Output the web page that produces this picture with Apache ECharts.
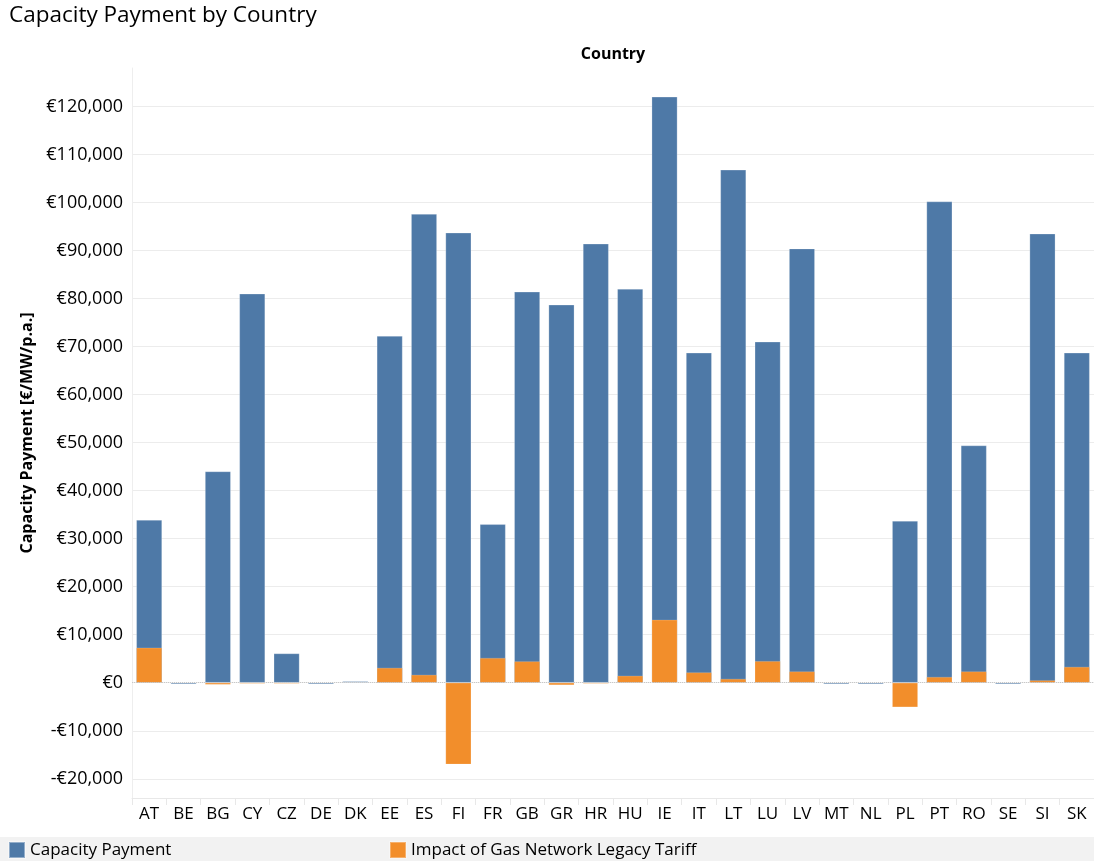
<!DOCTYPE html>
<html><head><meta charset="utf-8">
<script src="https://cdn.jsdelivr.net/npm/echarts@6/dist/echarts.min.js"></script>
<style>html,body{margin:0;padding:0;background:#fff}#c{width:1094px;height:861px}</style>
</head><body><div id="c"></div>
<script>
const countries = ['AT','BE','BG','CY','CZ','DE','DK','EE','ES','FI','FR','GB','GR','HR','HU','IE','IT','LT','LU','LV','MT','NL','PL','PT','RO','SE','SI','SK'];
const capacityPayment = [33900,-300,44000,81000,6100,-300,300,72200,97600,93700,33000,81400,78700,91400,82000,122000,68700,106800,71000,90400,-300,-300,33700,100200,49400,-300,93500,68700];
const gasLegacyImpact = [7300,0,-400,-200,-200,0,0,3100,1650,-17000,5150,4450,-500,-200,1450,13100,2150,800,4500,2350,0,0,-5100,1200,2350,0,500,3300];
const seriesNames = ['Capacity Payment','Impact of Gas Network Legacy Tariff'];
const yMin = -24000, yMax = 128000, yMajor = 10000, yMinor = 2000;

const FONT = '"Open Sans", "Noto Sans", sans-serif';
const gridColors = [];
for (let v = yMin; v <= yMax; v += yMinor) gridColors.push(v % yMajor === 0 ? '#ececec' : 'rgba(0,0,0,0)');
const fmt = v => (v % yMajor !== 0) ? '' : (v < 0 ? '-' : '') + '\u20ac' + Math.abs(v).toLocaleString('en-US');

const chart = echarts.init(document.getElementById('c'), null, {renderer: 'canvas'});
chart.setOption({
  animation: false,
  backgroundColor: '#fff',
  textStyle: {fontFamily: FONT},
  title: {text: 'Capacity Payment by Country', left: 9, top: 4, padding: 0,
    textStyle: {fontFamily: FONT, fontSize: 22.5, fontWeight: 'normal', color: '#000'}},
  graphic: [{type: 'rect', z: 0, shape: {x: 0, y: 837, width: 1094, height: 24}, style: {fill: '#f2f2f2'}, silent: true}],
  legend: [
    {data: [seriesNames[0]], left: 8, top: 841, padding: 0, icon: 'rect', itemWidth: 16, itemHeight: 16, z: 5,
      textStyle: {fontFamily: FONT, fontSize: 17, color: '#000'}},
    {data: [seriesNames[1]], left: 389, top: 841, padding: 0, icon: 'rect', itemWidth: 16, itemHeight: 16, z: 5,
      textStyle: {fontFamily: FONT, fontSize: 17, color: '#000'}}
  ],
  grid: {left: 132, right: 0, top: 68, bottom: 63, containLabel: false},
  xAxis: [
    {type: 'category', data: countries, position: 'bottom',
      axisLine: {onZero: false, lineStyle: {color: '#e8e8e8'}},
      axisTick: {show: true, length: 7, lineStyle: {color: '#e8e8e8'}},
      axisLabel: {fontFamily: FONT, fontSize: 17, color: '#000', margin: 8, interval: 0}},
    {type: 'category', data: countries, position: 'top', name: 'Country', nameLocation: 'middle', nameGap: 6,
      nameTextStyle: {fontFamily: FONT, fontSize: 16, fontWeight: 'bold', color: '#000'},
      axisLine: {show: false}, axisTick: {show: false}, axisLabel: {show: false}, splitLine: {show: false}}
  ],
  yAxis: {type: 'value', min: yMin, max: yMax, interval: yMinor,
    name: 'Capacity Payment [\u20ac/MW/p.a.]', nameLocation: 'middle', nameGap: 96,
    nameTextStyle: {fontFamily: FONT, fontSize: 16, fontWeight: 'bold', color: '#000'},
    axisLine: {show: true, lineStyle: {color: '#eeeeee'}},
    axisTick: {show: false},
    axisLabel: {formatter: fmt, fontFamily: FONT, fontSize: 18, color: '#000', margin: 9},
    splitLine: {show: true, lineStyle: {color: gridColors, width: 1}}
  },
  series: [
    {name: seriesNames[0], type: 'bar', data: capacityPayment, barWidth: '75%', barGap: '-100%',
      itemStyle: {color: '#4e79a7', borderColor: 'rgba(255,255,255,0.4)', borderWidth: 0.6}},
    {name: seriesNames[1], type: 'bar', data: gasLegacyImpact, barWidth: '75%', barGap: '-100%',
      itemStyle: {color: '#f28e2b', borderColor: 'rgba(255,255,255,0.3)', borderWidth: 0.6},
      markLine: {silent: true, symbol: 'none', label: {show: false},
        lineStyle: {color: '#c8c8c8', type: 'dotted', width: 1}, data: [{yAxis: 0}]}}
  ]
});
</script></body></html>
